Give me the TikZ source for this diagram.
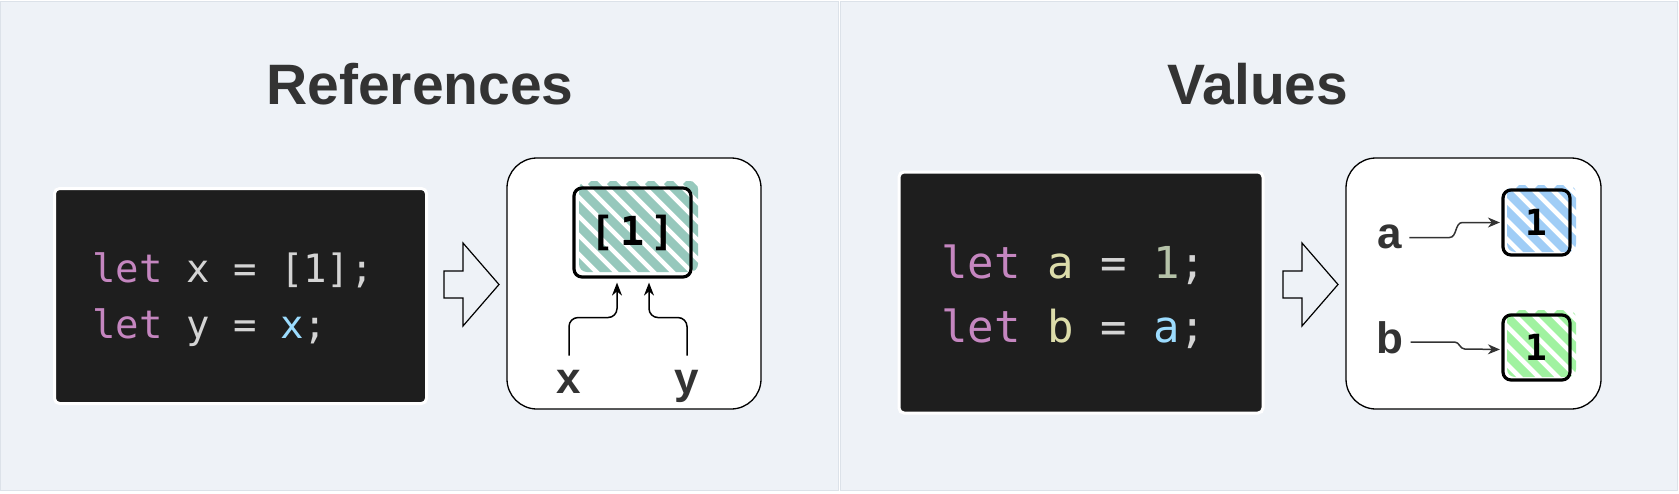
\documentclass[tikz,border=0pt]{standalone}
\usepackage{fontspec}
\setmainfont{Liberation Sans}
\setmonofont{DejaVu Sans Mono}
\usetikzlibrary{arrows.meta,calc}
\definecolor{panelbg}{HTML}{EEF2F7}
\definecolor{panelln}{HTML}{DCE2E9}
\definecolor{ink}{HTML}{333333}
\definecolor{codebg}{HTML}{1E1E1E}
\definecolor{kw}{HTML}{C586C0}
\definecolor{tx}{HTML}{D4D4D4}
\definecolor{var}{HTML}{9CDCFE}
\definecolor{fn}{HTML}{DCDCAA}
\definecolor{num}{HTML}{B5C2A8}
\definecolor{hteal}{HTML}{96C8BC}
\definecolor{hblue}{HTML}{A0CDF6}
\definecolor{hgreen}{HTML}{A0F2A0}
\newcommand\hatchfill[5]{%
  \begin{scope}
    \clip[rounded corners=8pt] (#1,#2) rectangle (#3,#4);
    \foreach \c in {-140,-121,...,150} \draw[#5,line width=8.5pt] (#1+\c,#2) -- ++(140,140);
  \end{scope}}
\begin{document}
\begin{tikzpicture}[x=1pt,y=-1pt,
  panel/.style={fill=panelbg, draw=panelln, line width=1pt},
  title/.style={font=\bfseries\fontsize{57}{60}\selectfont, text=ink, anchor=base, inner sep=0},
  codebox/.style={fill=codebg, draw=white, line width=3pt, rounded corners=5pt, inner sep=0},
  codeA/.style={font=\ttfamily\fontsize{39}{44}\selectfont, anchor=base west, inner sep=0, text=tx},
  codeB/.style={font=\ttfamily\fontsize{44}{50}\selectfont, anchor=base west, inner sep=0, text=tx},
  diag/.style={fill=white, draw=black, line width=1.3pt, rounded corners=30pt, inner sep=0},
  valbox/.style={draw=black, line width=3.2pt, rounded corners=8pt, inner sep=0, font=\ttfamily\bfseries\fontsize{36}{40}\selectfont, text=black},
  lab/.style={font=\bfseries\fontsize{44}{50}\selectfont, text=ink, anchor=base, inner sep=0},
  hollow/.style={draw=black, line width=1.2pt, line join=miter},
  refconn/.style={draw=black, line width=1.5pt, rounded corners=9pt, -{Stealth[length=13pt,width=10pt]}},
  valconn/.style={draw=ink, line width=1.5pt, shorten >=1.5pt, -{Stealth[length=12pt,width=10pt]}},
]
\useasboundingbox (0,0) rectangle (1679,493);
\fill[white] (0,0) rectangle (1679,493);
\draw[panel] (0.5,1) rectangle (838.5,490.5);
\draw[panel] (840.5,1) rectangle (1677.5,490.5);

% titles
\node[title] (t1) at (420,104) {References};
\node[title] (t2) at (1258,104) {Values};

% code boxes
\node[codebox, minimum width=372, minimum height=215] (cb1) at (240.5,296) {};
\node[codebox, minimum width=364, minimum height=241] (cb2) at (1081,292.5) {};
\node[codeA] (l1a) at (92,282) {\textcolor{kw}{let} x = [1];};
\node[codeA] (l1b) at (92,338) {\textcolor{kw}{let} y = \textcolor{var}{x};};
\node[codeB] (l2a) at (941,278) {\textcolor{kw}{let} \textcolor{fn}{a} = \textcolor{num}{1};};
\node[codeB] (l2b) at (941,342) {\textcolor{kw}{let} \textcolor{fn}{b} = \textcolor{var}{a};};

% hollow arrows
\draw[hollow] (444,271) -- (463,271) -- (463,243) -- (499,284.5) -- (463,326) -- (463,298) -- (444,298) -- cycle;
\draw[hollow] (1283,271) -- (1302,271) -- (1302,243) -- (1338,284.5) -- (1302,326) -- (1302,298) -- (1283,298) -- cycle;

% diagram boxes
\node[diag, minimum width=254, minimum height=251] (d1) at (634,283.5) {};
\node[diag, minimum width=255, minimum height=251] (d2) at (1473.5,283.5) {};

% hatching
\hatchfill{579}{181}{698}{272}{hteal}
\hatchfill{1507}{185}{1576}{252}{hblue}
\hatchfill{1507}{310}{1576}{377}{hgreen}

% value boxes
\node[valbox, minimum width=117, minimum height=89, font=\ttfamily\bfseries\fontsize{40}{44}\selectfont] (box1) at (632.5,232.5) {[\kern6pt1\kern6pt]};
\node[valbox, minimum width=67, minimum height=65] (va) at (1536.5,222.5) {1};
\node[valbox, minimum width=67, minimum height=65] (vb) at (1536.5,347.5) {1};

% labels
\node[lab] (xl) at (569,393) {x};
\node[lab] (yl) at (687,393) {y};
\node[lab] (al) at (1390,248) {a};
\node[lab] (bl) at (1390,353) {b};

% connectors
\draw[refconn] ([yshift=14pt]xl.north) -- ++(0,-38) -| ([xshift=-15.5pt,yshift=-4pt]box1.south);
\draw[refconn] ([yshift=14pt]yl.north) -- ++(0,-38) -| ([xshift=16.5pt,yshift=-4pt]box1.south);
\draw[valconn] ([xshift=7pt,yshift=10.5pt]al.base east) -- ++(40,0) to[out=0,in=180] ++(13,-15) -- (va.west);
\draw[valconn] ([xshift=7pt,yshift=11pt]bl.base east) -- ++(44,0) to[out=0,in=180] ++(10,7) -- ([yshift=-2pt]vb.west);
\end{tikzpicture}
\end{document}
